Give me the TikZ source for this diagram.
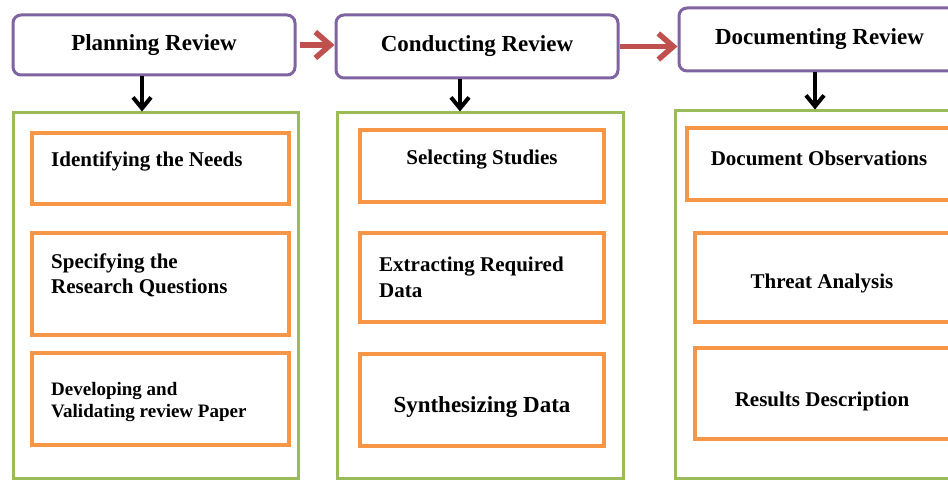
\documentclass[tikz,border=0pt]{standalone}
\usepackage{fontspec}
\setmainfont{Liberation Serif}
\usetikzlibrary{arrows.meta}
\definecolor{rvpurple}{HTML}{8064A2}
\definecolor{rvgreen}{HTML}{9BBB59}
\definecolor{rvorange}{HTML}{F79646}
\definecolor{rvred}{HTML}{C0504D}
\tikzset{
  phase/.style={draw=rvpurple,line width=3pt,rounded corners=8pt,fill=white,inner sep=0pt,font=\fontsize{23}{27}\selectfont\bfseries},
  area/.style={draw=rvgreen,line width=3pt},
  task/.style={draw=rvorange,line width=4pt},
  tasktext/.style={align=left,inner sep=0pt,font=\fontsize{21}{25}\selectfont\bfseries},
  flow/.style={rvred,line width=5.5pt,-{Straight Barb[length=15pt,width=26pt]}},
  down/.style={black,line width=4pt,-{Straight Barb[length=11pt,width=18pt]}}
}
\begin{document}
\begin{tikzpicture}[x=1pt,y=-1pt]
\useasboundingbox(0,0)rectangle(948,481);
\draw(154,45)node[phase,minimum width=282,minimum height=60](plan){Planning Review};
\draw(477,46.5)node[phase,minimum width=282,minimum height=63](cond){Conducting Review};
\draw(819.5,39.5)node[phase,minimum width=281,minimum height=63](doc){Documenting Review};
\foreach \n/\cx/\cy/\w/\h in {planA/155.5/295.5/285/365,condA/480/295.5/286/365,docA/817.5/294.5/285/367}{\draw(\cx,\cy)node[area,minimum width=\w,minimum height=\h](\n){};}
\foreach \n/\cx/\cy/\w/\h in {plan1/160.5/168.5/257/71,plan2/160.5/284/257/102,plan3/160.5/399/257/92,
  cond1/482/166/244/72,cond2/482/277.5/244/89,cond3/482/400/244/92,
  doc1/823.5/164/273/72,doc2/827.5/277.5/265/89,doc3/827.5/393.5/265/91}{\draw(\cx,\cy)node[task,minimum width=\w,minimum height=\h](\n){};}
\draw(51,167)node[tasktext,anchor=base west](plan1t){Identifying the Needs};
\draw(51,294)node[tasktext,anchor=base west](plan2t){Specifying the\\Research Questions};
\draw(51,417)node[tasktext,anchor=base west,font=\fontsize{19}{22}\selectfont\bfseries](plan3t){Developing and\\Validating review Paper};
\draw(482,165)node[tasktext,anchor=base](cond1t){Selecting Studies};
\draw(379,297)node[tasktext,anchor=base west](cond2t){Extracting Required\\Data};
\draw(482,412)node[tasktext,anchor=base,font=\fontsize{23}{27}\selectfont\bfseries](cond3t){Synthesizing Data};
\draw(819,166)node[tasktext,anchor=base](doc1t){Document Observations};
\draw(822,288)node[tasktext,anchor=base](doc2t){Threat Analysis};
\draw(822,406)node[tasktext,anchor=base](doc3t){Results Description};
\draw[flow]([xshift=3]plan.east)--(plan.east-|cond.west);
\draw[flow](cond.east)--(cond.east-|doc.west);
\foreach \p/\a/\s in {plan/planA/-12,cond/condA/-17,doc/docA/-4.5}{\draw[down]([xshift=\s]\p.south)--([xshift=\s]\p.south|-\a.north);}
\end{tikzpicture}
\end{document}
